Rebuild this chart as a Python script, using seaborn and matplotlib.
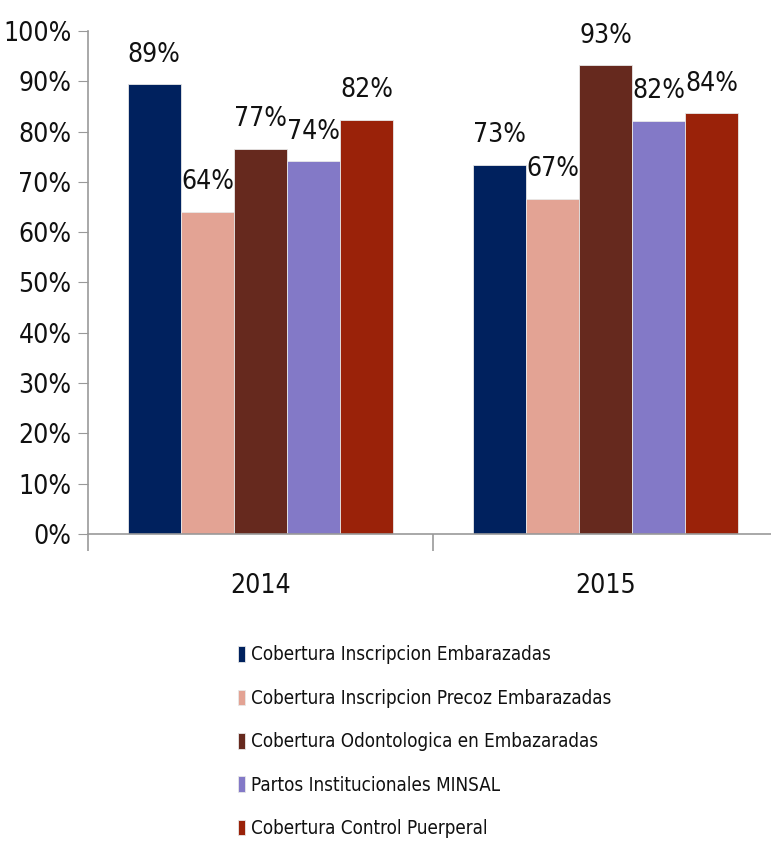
import matplotlib
matplotlib.use("Agg")
import matplotlib.pyplot as plt
import seaborn as sns
import pandas as pd

years = ["2014", "2015"]
series = [
    "Cobertura Inscripcion Embarazadas",
    "Cobertura Inscripcion Precoz Embarazadas",
    "Cobertura Odontologica en Embazaradas",
    "Partos Institucionales MINSAL",
    "Cobertura Control Puerperal",
]
values_2014 = [89.4, 64.1, 76.6, 74.1, 82.4]
values_2015 = [73.4, 66.6, 93.2, 82.1, 83.6]
colors = ["#00215E", "#E3A394", "#66291E", "#8379C7", "#9A2209"]

rows = []
for name, v14, v15 in zip(series, values_2014, values_2015):
    rows.append({"year": "2014", "serie": name, "value": v14})
    rows.append({"year": "2015", "serie": name, "value": v15})
df = pd.DataFrame(rows)

sns.set_style("white")
plt.rcParams["font.family"] = ["DejaVu Sans"]
plt.rcParams["font.stretch"] = "condensed"
plt.rcParams["text.color"] = "#111111"

fig = plt.figure(figsize=(7.71, 8.41), dpi=100)
ax = fig.add_axes([88 / 771, (841 - 534) / 841, 690 / 771, 503 / 841])

sns.barplot(data=df, x="year", y="value", hue="serie", order=years,
            hue_order=series, palette=colors, saturation=1, width=0.77, gap=0,
            edgecolor="#E8E8E8", linewidth=0.6, ax=ax, legend=True)

# value labels
for cont in ax.containers:
    labels = [f"{round(b.get_height()):.0f}%" for b in cont]
    ax.bar_label(cont, labels=labels, padding=12, fontsize=19, color="#111111")

ax.set_ylim(0, 100)
ax.set_xlim(-0.5, 1.5)
ax.set_yticks(range(0, 101, 10))
ax.set_yticklabels([f"{t}%" for t in range(0, 101, 10)], fontsize=19, color="#111111")
ax.set_xticks([0, 1])
ax.set_xticklabels(years, fontsize=19, color="#111111")
ax.set_xlabel("")
ax.set_ylabel("")
ax.tick_params(axis="y", left=True, length=7, color="#999999", direction="out", pad=5)
ax.tick_params(axis="x", bottom=True, length=0, pad=28)
# category separators on x axis
ax.set_xticks([-0.5, 0.5, 1.5], minor=True)
ax.tick_params(axis="x", which="minor", bottom=True, length=12, width=1.2,
               color="#999999", direction="out")

for s in ["top", "right"]:
    ax.spines[s].set_visible(False)
for s in ["left", "bottom"]:
    ax.spines[s].set_color("#999999")
    ax.spines[s].set_linewidth(1.2)

leg = ax.legend(loc="upper left", bbox_to_anchor=(230 / 771, (841 - 638) / 841),
                bbox_transform=fig.transFigure, frameon=False, fontsize=13.5,
                handlelength=0.4, handleheight=0.9, handletextpad=0.3,
                labelspacing=1.3, borderaxespad=0)
for t in leg.get_texts():
    t.set_color("#111111")

fig.savefig("out.png", dpi=100)
